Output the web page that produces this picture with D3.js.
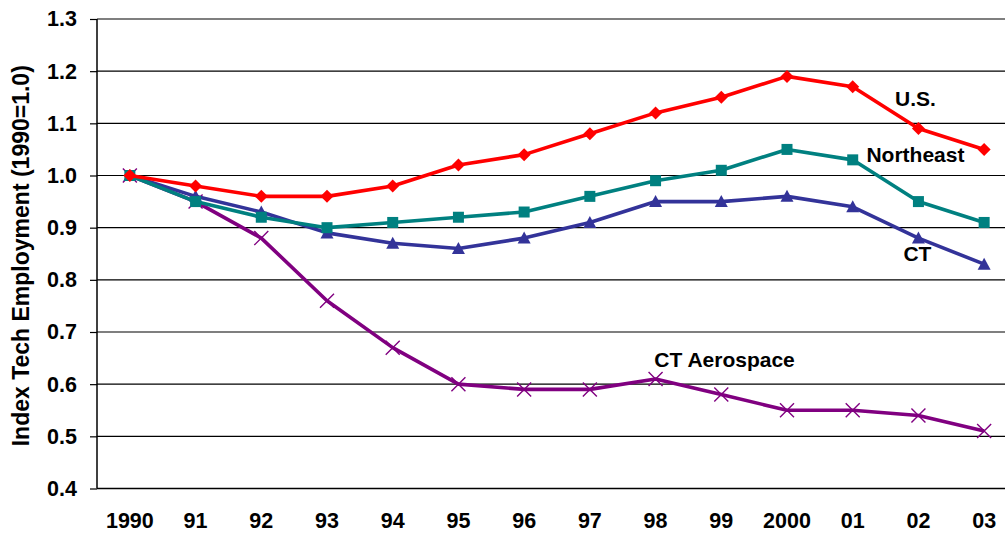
<!DOCTYPE html>
<html>
<head>
<meta charset="utf-8">
<script src="https://cdn.jsdelivr.net/npm/d3@7"></script>
<style>
  html, body { margin: 0; padding: 0; background: #fff; }
  svg { display: block; font-family: "Liberation Sans", Arial, sans-serif; }
</style>
</head>
<body>
<svg id="chart" width="1005" height="533"></svg>
<script>
// Years on the category axis
const years = ["1990", "91", "92", "93", "94", "95", "96", "97", "98", "99", "2000", "01", "02", "03"];

// Tech employment index per region (1990 = 1.0)
const usValues        = [1.00, 0.98, 0.96, 0.96, 0.98, 1.02, 1.04, 1.08, 1.12, 1.15, 1.19, 1.17, 1.09, 1.05];
const northeastValues = [1.00, 0.95, 0.92, 0.90, 0.91, 0.92, 0.93, 0.96, 0.99, 1.01, 1.05, 1.03, 0.95, 0.91];
const ctValues        = [1.00, 0.96, 0.93, 0.89, 0.87, 0.86, 0.88, 0.91, 0.95, 0.95, 0.96, 0.94, 0.88, 0.83];
const aerospaceValues = [1.00, 0.95, 0.88, 0.76, 0.67, 0.60, 0.59, 0.59, 0.61, 0.58, 0.55, 0.55, 0.54, 0.51];

const yTicks = [0.4, 0.5, 0.6, 0.7, 0.8, 0.9, 1.0, 1.1, 1.2, 1.3];

const series = [
  { name: "U.S.",         values: usValues,        color: "#FF0000", marker: "diamond",  labelAt: 12, dx: -3, dy: -28 },
  { name: "Northeast",    values: northeastValues, color: "#008080", marker: "square",   labelAt: 12, dx: -3, dy: -45 },
  { name: "CT",           values: ctValues,        color: "#333399", marker: "triangle", labelAt: 12, dx: -1, dy: 17 },
  { name: "CT Aerospace", values: aerospaceValues, color: "#800080", marker: "cross",    labelAt: 8,  dx: 69, dy: -17 }
];

const svg = d3.select("#chart");
const margin = { left: 97, top: 19, bottom: 44.5 };
const plotRight = 1017;
const plotBottom = 533 - margin.bottom;
const fontFamily = "'Liberation Sans', Arial, sans-serif";

const x = d3.scaleBand().domain(years).range([margin.left, plotRight]);
const y = d3.scaleLinear().domain([0.4, 1.3]).range([plotBottom, margin.top]);
const cx = d => x(d) + x.bandwidth() / 2;

// Horizontal gridlines
svg.append("g")
  .selectAll("line")
  .data(yTicks.slice(1))
  .join("line")
  .attr("x1", margin.left).attr("x2", plotRight)
  .attr("y1", d => y(d)).attr("y2", d => y(d))
  .attr("stroke", "#000").attr("stroke-width", 1.2);

// Y axis with outward ticks
const yAxis = svg.append("g")
  .attr("transform", `translate(${margin.left},0)`)
  .call(d3.axisLeft(y).tickValues(yTicks).tickFormat(d3.format(".1f")).tickSize(7).tickPadding(13));
yAxis.select(".domain").attr("stroke", "#000").attr("stroke-width", 1.5).attr("d", `M0,${plotBottom}V${margin.top}`);
yAxis.selectAll(".tick line").attr("stroke", "#000").attr("stroke-width", 1.2);
yAxis.selectAll("text")
  .attr("font-size", 21.5).attr("font-weight", "bold").attr("fill", "#000")
  .attr("font-family", fontFamily);

// X axis (labels only, baseline line)
const xAxis = svg.append("g")
  .attr("transform", `translate(0,${plotBottom})`)
  .call(d3.axisBottom(x).tickSize(0).tickPadding(24));
xAxis.select(".domain").attr("stroke", "#000").attr("stroke-width", 1.5).attr("d", `M${margin.left},0H${plotRight}`);
xAxis.selectAll("text")
  .attr("font-size", 21.5).attr("font-weight", "bold").attr("fill", "#000")
  .attr("font-family", fontFamily)
  .attr("dy", "0.71em");

// Y axis title
svg.append("text")
  .attr("transform", `translate(29,${(margin.top + plotBottom) / 2 + 2}) rotate(-90)`)
  .attr("text-anchor", "middle")
  .attr("font-size", 23).attr("font-weight", "bold")
  .text("Index Tech Employment (1990=1.0)");

const line = d3.line().x((d, i) => cx(years[i])).y(d => y(d));

// Marker shapes
function drawMarker(g, kind, color) {
  if (kind === "diamond") {
    g.append("path").attr("d", "M0,-6.5L6.5,0L0,6.5L-6.5,0Z").attr("fill", color);
  } else if (kind === "square") {
    g.append("rect").attr("x", -5.5).attr("y", -5.5).attr("width", 11).attr("height", 11).attr("fill", color);
  } else if (kind === "triangle") {
    g.append("path").attr("d", "M0,-6.5L6.5,5.5L-6.5,5.5Z").attr("fill", color);
  } else {
    g.append("path").attr("d", "M-7,-7L7,7M-7,7L7,-7").attr("stroke", color).attr("stroke-width", 1.4);
  }
}

// Draw lines back to front: aerospace first, U.S. last
const drawOrder = [series[3], series[2], series[1], series[0]];
drawOrder.forEach(s => {
  svg.append("path")
    .datum(s.values)
    .attr("d", line)
    .attr("fill", "none")
    .attr("stroke", s.color)
    .attr("stroke-width", 3.6)
    .attr("stroke-linejoin", "round");
  svg.append("g").selectAll("g")
    .data(s.values)
    .join("g")
    .attr("transform", (d, i) => `translate(${cx(years[i])},${y(d)})`)
    .each(function () { drawMarker(d3.select(this), s.marker, s.color); });
});

// Series labels placed near their lines
series.forEach(s => {
  svg.append("text")
    .attr("x", cx(years[s.labelAt]) + s.dx)
    .attr("y", y(s.values[s.labelAt]) + s.dy)
    .attr("text-anchor", "middle")
    .attr("dominant-baseline", "middle")
    .attr("font-size", 21).attr("font-weight", "bold")
    .text(s.name);
});
</script>
</body>
</html>
